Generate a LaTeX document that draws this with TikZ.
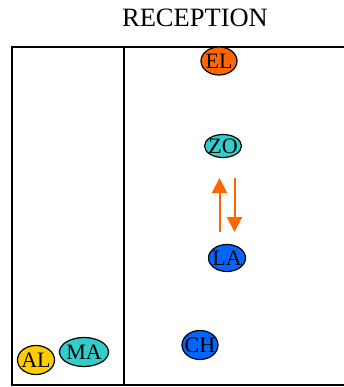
\documentclass[tikz,border=0pt]{standalone}
\usepackage{fontspec}
\setmainfont{Liberation Serif}
\usetikzlibrary{shapes.geometric,arrows.meta}
\definecolor{elorange}{HTML}{FF6600}
\definecolor{zocyan}{HTML}{33CCCC}
\definecolor{lablue}{HTML}{0066FF}
\definecolor{alyellow}{HTML}{FFCC00}
\tikzset{
  person/.style={ellipse, draw=black, line width=1.2pt, inner sep=0pt, font=\fontsize{22}{22}\selectfont},
  frame/.style={draw=black, line width=1.4pt},
  flow/.style={draw=elorange, line width=2pt, -{Triangle[length=15pt,width=15pt]}}
}
\newcommand{\plabel}[1]{\makebox[0pt]{\raisebox{0pt}[0pt][0pt]{\raisebox{-0.33em}{#1}}}}
\begin{document}
\begin{tikzpicture}[x=1pt,y=-1pt]
\useasboundingbox (0,0) rectangle (344,387);
\node[font=\fontsize{26.5}{26.5}\selectfont] (title) at (195,18) {RECEPTION};
\draw[frame] (360,47) -- (12,47) -- (12,385) -- (360,385);
\draw[frame] (124,47) -- (124,385);
\node[person, fill=elorange, minimum width=36pt, minimum height=28pt] (EL) at (219,61) {\plabel{EL}};
\node[person, fill=zocyan, minimum width=37pt, minimum height=23pt] (ZO) at (223,146) {\plabel{ZO}};
\node[person, fill=lablue, minimum width=37pt, minimum height=27pt] (LA) at (227,258) {\plabel{LA}};
\node[person, fill=lablue, minimum width=36pt, minimum height=29pt] (CH) at (200,345) {\plabel{CH}};
\node[person, fill=alyellow, minimum width=37pt, minimum height=29pt] (AL) at (36,360) {\plabel{AL}};
\node[person, fill=zocyan, minimum width=49pt, minimum height=29pt] (MA) at (84,352) {\plabel{MA}};
\coordinate (upstart) at (219.5,232);
\coordinate (upend) at (219.5,178);
\coordinate (downstart) at (234.5,178);
\coordinate (downend) at (234.5,232);
\draw[flow] (upstart) -- (upend);
\draw[flow] (downstart) -- (downend);
\end{tikzpicture}
\end{document}
